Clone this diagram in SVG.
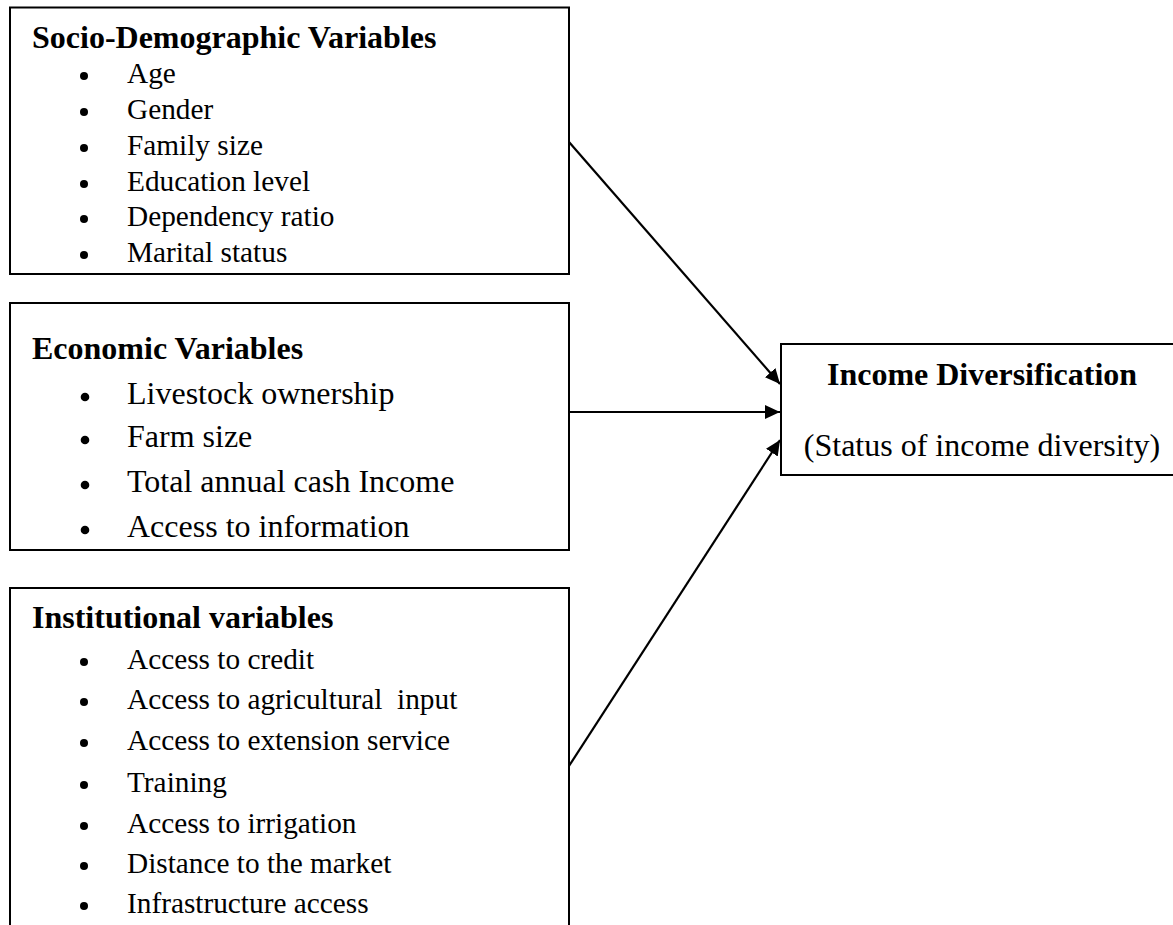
<svg xmlns="http://www.w3.org/2000/svg" width="1173" height="925" viewBox="0 0 1173 925">
<style>
.box{fill:#fff;stroke:#000;stroke-width:2}
.t{font-family:"Liberation Serif","Times New Roman",serif;fill:#000}
.h{font-weight:bold;font-size:32px}
.i{font-size:29.3px}
.e{font-size:32px}
.b{fill:#000}
.c{stroke:#000;stroke-width:2.2;fill:none}
</style>
<defs>
<marker id="ah" markerUnits="userSpaceOnUse" markerWidth="16" markerHeight="16" viewBox="0 0 16 16" refX="15" refY="8" orient="auto">
<path d="M0,1 L15,8 L0,15 Z" fill="#000"/>
</marker>
</defs>
<rect width="1173" height="925" fill="#fff"/>
<g id="socio">
<rect class="box" x="10" y="7.5" width="559" height="266.5"/>
<text class="t h" x="32" y="48">Socio-Demographic Variables</text>
<g class="b"><circle cx="84" cy="76" r="4"/><circle cx="84" cy="112" r="4"/><circle cx="84" cy="148" r="4"/><circle cx="84" cy="184" r="4"/><circle cx="84" cy="219" r="4"/><circle cx="84" cy="255" r="4"/></g>
<text class="t i" x="127" y="83">Age</text>
<text class="t i" x="127" y="119">Gender</text>
<text class="t i" x="127" y="155">Family size</text>
<text class="t i" x="127" y="191">Education level</text>
<text class="t i" x="127" y="226">Dependency ratio</text>
<text class="t i" x="127" y="262">Marital status</text>
</g>
<g id="economic">
<rect class="box" x="10" y="303" width="559" height="247"/>
<text class="t h" x="32" y="359">Economic Variables</text>
<g class="b"><circle cx="85" cy="397" r="4.3"/><circle cx="85" cy="440" r="4.3"/><circle cx="85" cy="485" r="4.3"/><circle cx="85" cy="530" r="4.3"/></g>
<text class="t e" x="127" y="404">Livestock ownership</text>
<text class="t e" x="127" y="447">Farm size</text>
<text class="t e" x="127" y="492">Total annual cash Income</text>
<text class="t e" x="127" y="537">Access to information</text>
</g>
<g id="institutional">
<rect class="box" x="10" y="588" width="559" height="350"/>
<text class="t h" x="32" y="628">Institutional variables</text>
<g class="b"><circle cx="84" cy="662" r="4"/><circle cx="84" cy="702" r="4"/><circle cx="84" cy="743" r="4"/><circle cx="84" cy="785" r="4"/><circle cx="84" cy="826" r="4"/><circle cx="84" cy="866" r="4"/><circle cx="84" cy="906" r="4"/></g>
<text class="t i" x="127" y="669">Access to credit</text>
<text class="t i" x="127" y="709" style="white-space:pre">Access to agricultural  input</text>
<text class="t i" x="127" y="750">Access to extension service</text>
<text class="t i" x="127" y="792">Training</text>
<text class="t i" x="127" y="833">Access to irrigation</text>
<text class="t i" x="127" y="873">Distance to the market</text>
<text class="t i" x="127" y="913">Infrastructure access</text>
</g>
<g id="income">
<rect class="box" x="781" y="344" width="402" height="131"/>
<text class="t h" x="982" y="385" text-anchor="middle">Income Diversification</text>
<text class="t e" x="982" y="456" text-anchor="middle">(Status of income diversity)</text>
</g>
<g id="connectors">
<line class="c" x1="569" y1="142" x2="780" y2="384" marker-end="url(#ah)"/>
<line class="c" x1="569" y1="412" x2="780" y2="412" marker-end="url(#ah)"/>
<line class="c" x1="569" y1="766" x2="780" y2="440" marker-end="url(#ah)"/>
</g>
</svg>
